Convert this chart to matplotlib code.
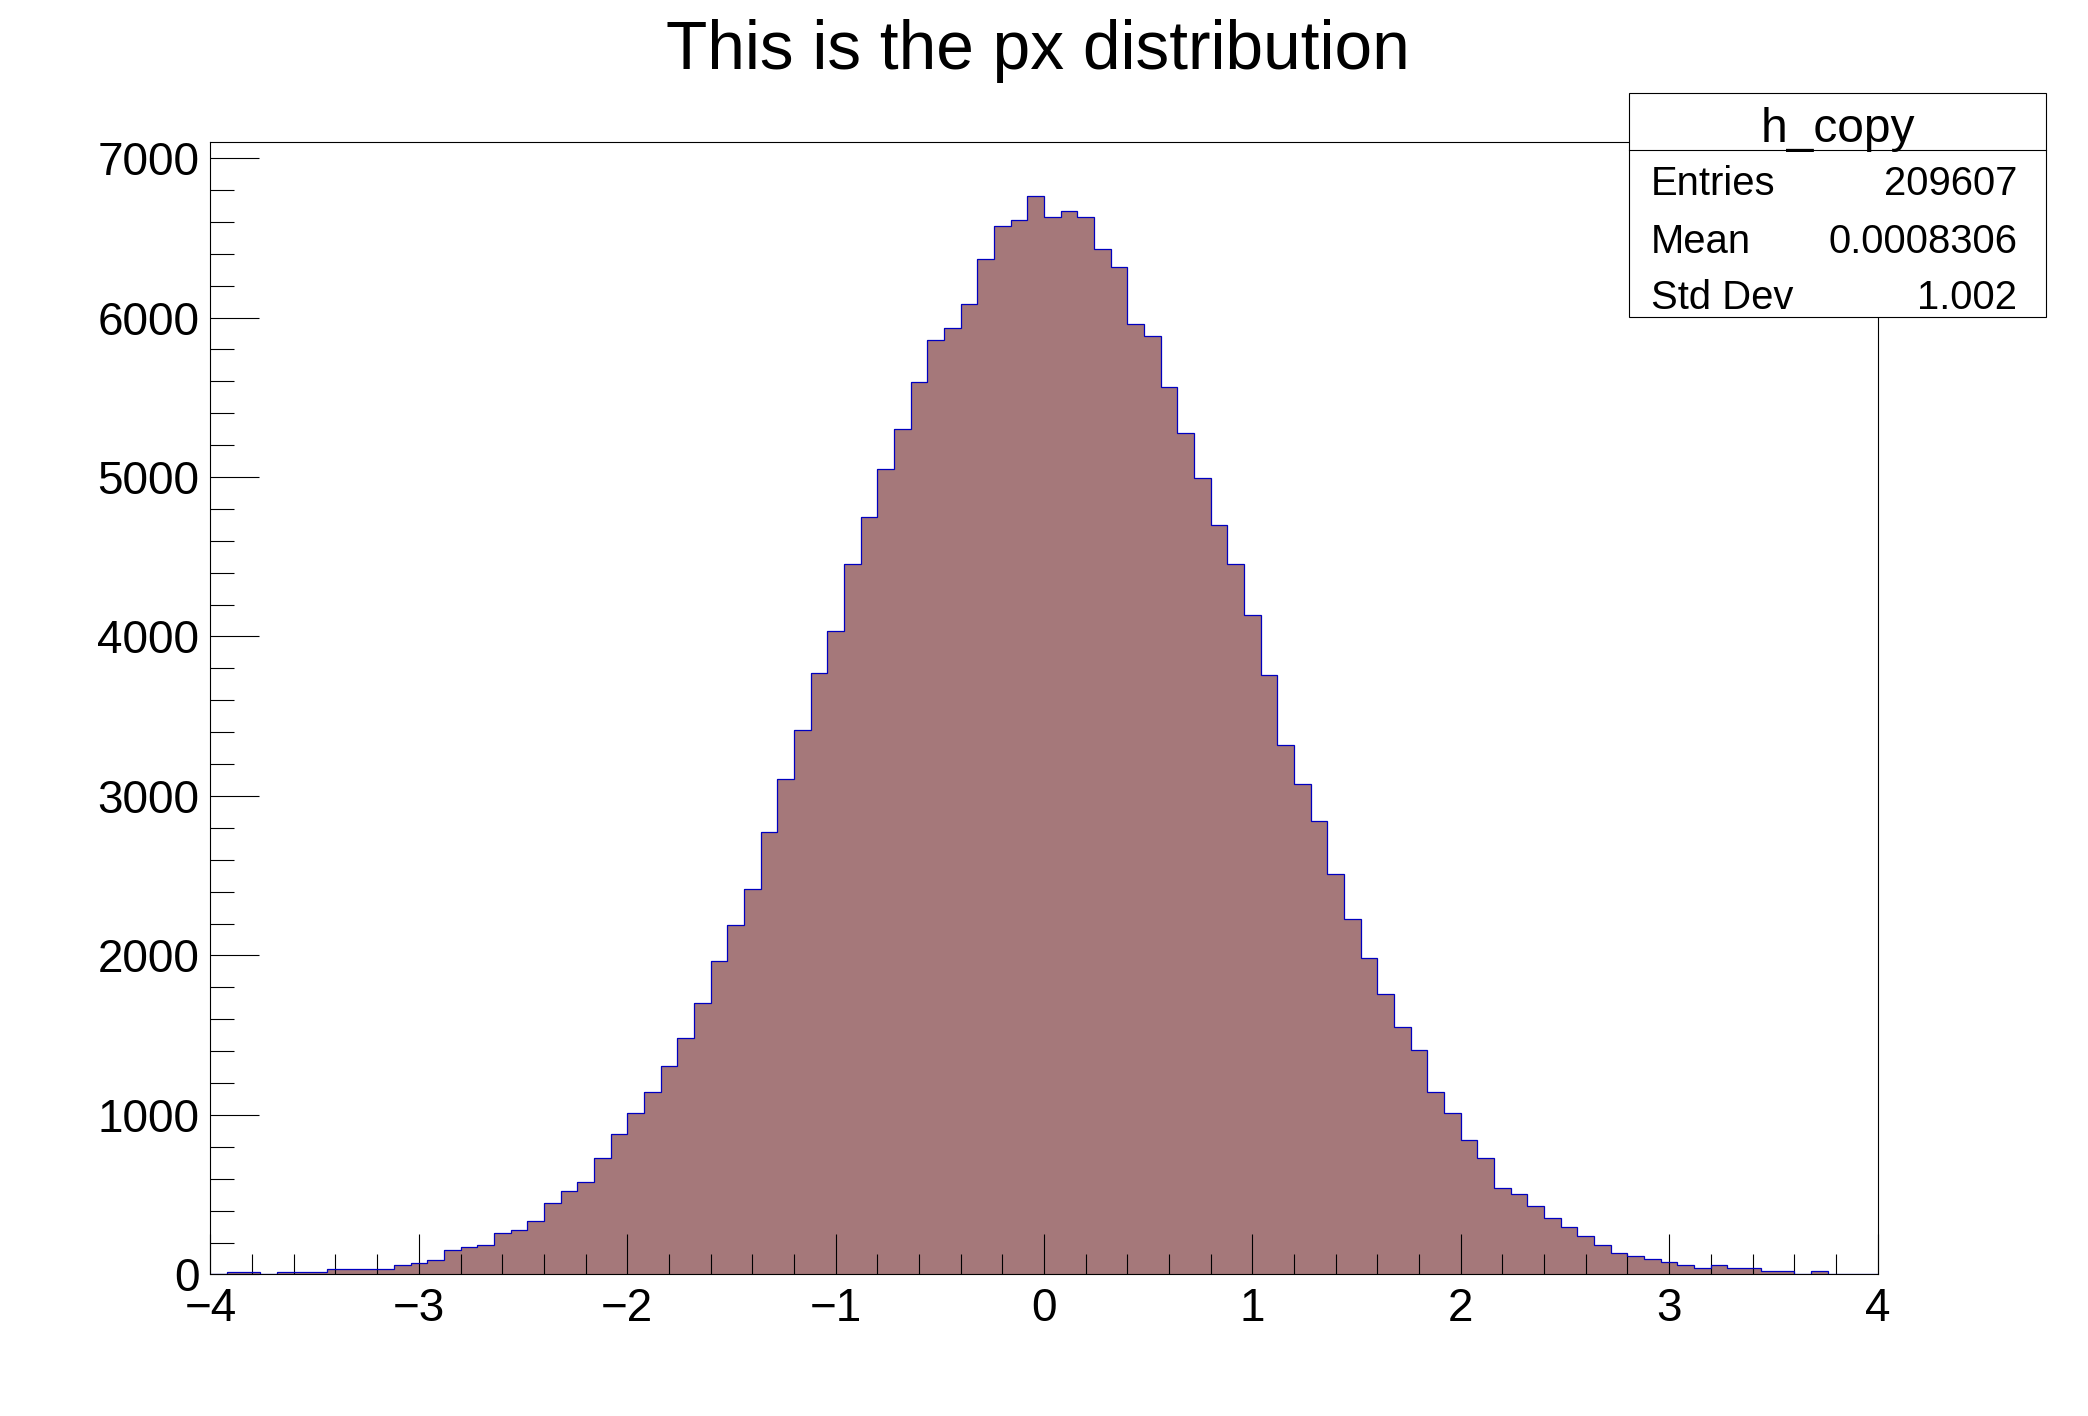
import numpy as np
import matplotlib
matplotlib.use("Agg")
import matplotlib.pyplot as plt
from matplotlib.patches import Rectangle
from matplotlib.ticker import MultipleLocator

plt.rcParams['font.family'] = ['Liberation Sans', 'DejaVu Sans']

# histogram: 100 bins between -4 and 4
x_min = -4.0
x_max = 4.0
counts = [
    0, 16, 16, 0, 16, 16, 16, 36, 36, 36,
    36, 57, 74, 92, 150, 169, 187, 261, 279, 337,
    448, 524, 580, 730, 880, 1012, 1143, 1309, 1480, 1704,
    1965, 2192, 2416, 2774, 3109, 3413, 3772, 4035, 4452, 4752,
    5051, 5298, 5597, 5860, 5936, 6087, 6370, 6577, 6614, 6765,
    6633, 6670, 6633, 6429, 6314, 5958, 5883, 5564, 5278, 4995,
    4696, 4452, 4133, 3758, 3320, 3072, 2845, 2510, 2229, 1986,
    1760, 1554, 1404, 1143, 1012, 841, 730, 543, 506, 430,
    356, 300, 242, 187, 132, 113, 95, 76, 58, 39,
    58, 39, 39, 20, 20, 0, 20, 0, 0, 0,
]

title = "This is the px distribution"
stats_name = "h_copy"
stats_labels = ["Entries", "Mean", "Std Dev"]
stats_values = ["209607", "0.0008306", "1.002"]

fill_color = '#a5787a'
line_color = '#0000c0'

edges = np.linspace(x_min, x_max, len(counts) + 1)
values = np.array(counts, dtype=float)

fig = plt.figure(figsize=(20.88, 14.16), dpi=100)
ax = fig.add_axes([0.1008, 0.1, 0.7984, 0.8])

ax.stairs(values, edges, fill=True, color=fill_color, zorder=1)
ax.stairs(values, edges, fill=False, baseline=0, color=line_color,
          linewidth=0.9, zorder=2)

ax.set_xlim(x_min, x_max)
ax.set_ylim(0, 1.05 * values.max())

ax.xaxis.set_major_locator(MultipleLocator(1))
ax.xaxis.set_minor_locator(MultipleLocator(0.2))
ax.yaxis.set_major_locator(MultipleLocator(1000))
ax.yaxis.set_minor_locator(MultipleLocator(200))

ax.tick_params(axis='x', which='major', direction='in', length=28.8, width=0.8,
               labelsize=33, pad=9, top=False)
ax.tick_params(axis='x', which='minor', direction='in', length=14.4, width=0.8, top=False)
ax.tick_params(axis='y', which='major', direction='in', length=35, width=0.8,
               labelsize=33, pad=8, right=False)
ax.tick_params(axis='y', which='minor', direction='in', length=17.6, width=0.8, right=False)

for sp in ax.spines.values():
    sp.set_linewidth(0.8)
    sp.set_zorder(3)

fig.text(0.497, 0.951, title, ha='center', va='baseline', fontsize=48.7)

# stats box
bx0, bx1 = 0.7802, 0.9799
by0, by1 = 0.7761, 0.9341
ydiv = 0.8939
fig.patches.append(Rectangle((bx0, by0), bx1 - bx0, by1 - by0, transform=fig.transFigure,
                             facecolor='white', edgecolor='black', linewidth=0.8, zorder=5))
fig.add_artist(plt.Line2D([bx0, bx1], [ydiv, ydiv], transform=fig.transFigure,
                          color='black', linewidth=0.8, zorder=6))
fig.text((bx0 + bx1) / 2, 0.8999, stats_name, ha='center', va='baseline',
         fontsize=34.5, zorder=7)
row_y = [0.8625, 0.8215, 0.7820]
for lab, val, yy in zip(stats_labels, stats_values, row_y):
    fig.text(0.7907, yy, lab, ha='left', va='baseline', fontsize=28.8, zorder=7)
    fig.text(0.9660, yy, val, ha='right', va='baseline', fontsize=28.8, zorder=7)

fig.savefig('out.png', dpi=100)
